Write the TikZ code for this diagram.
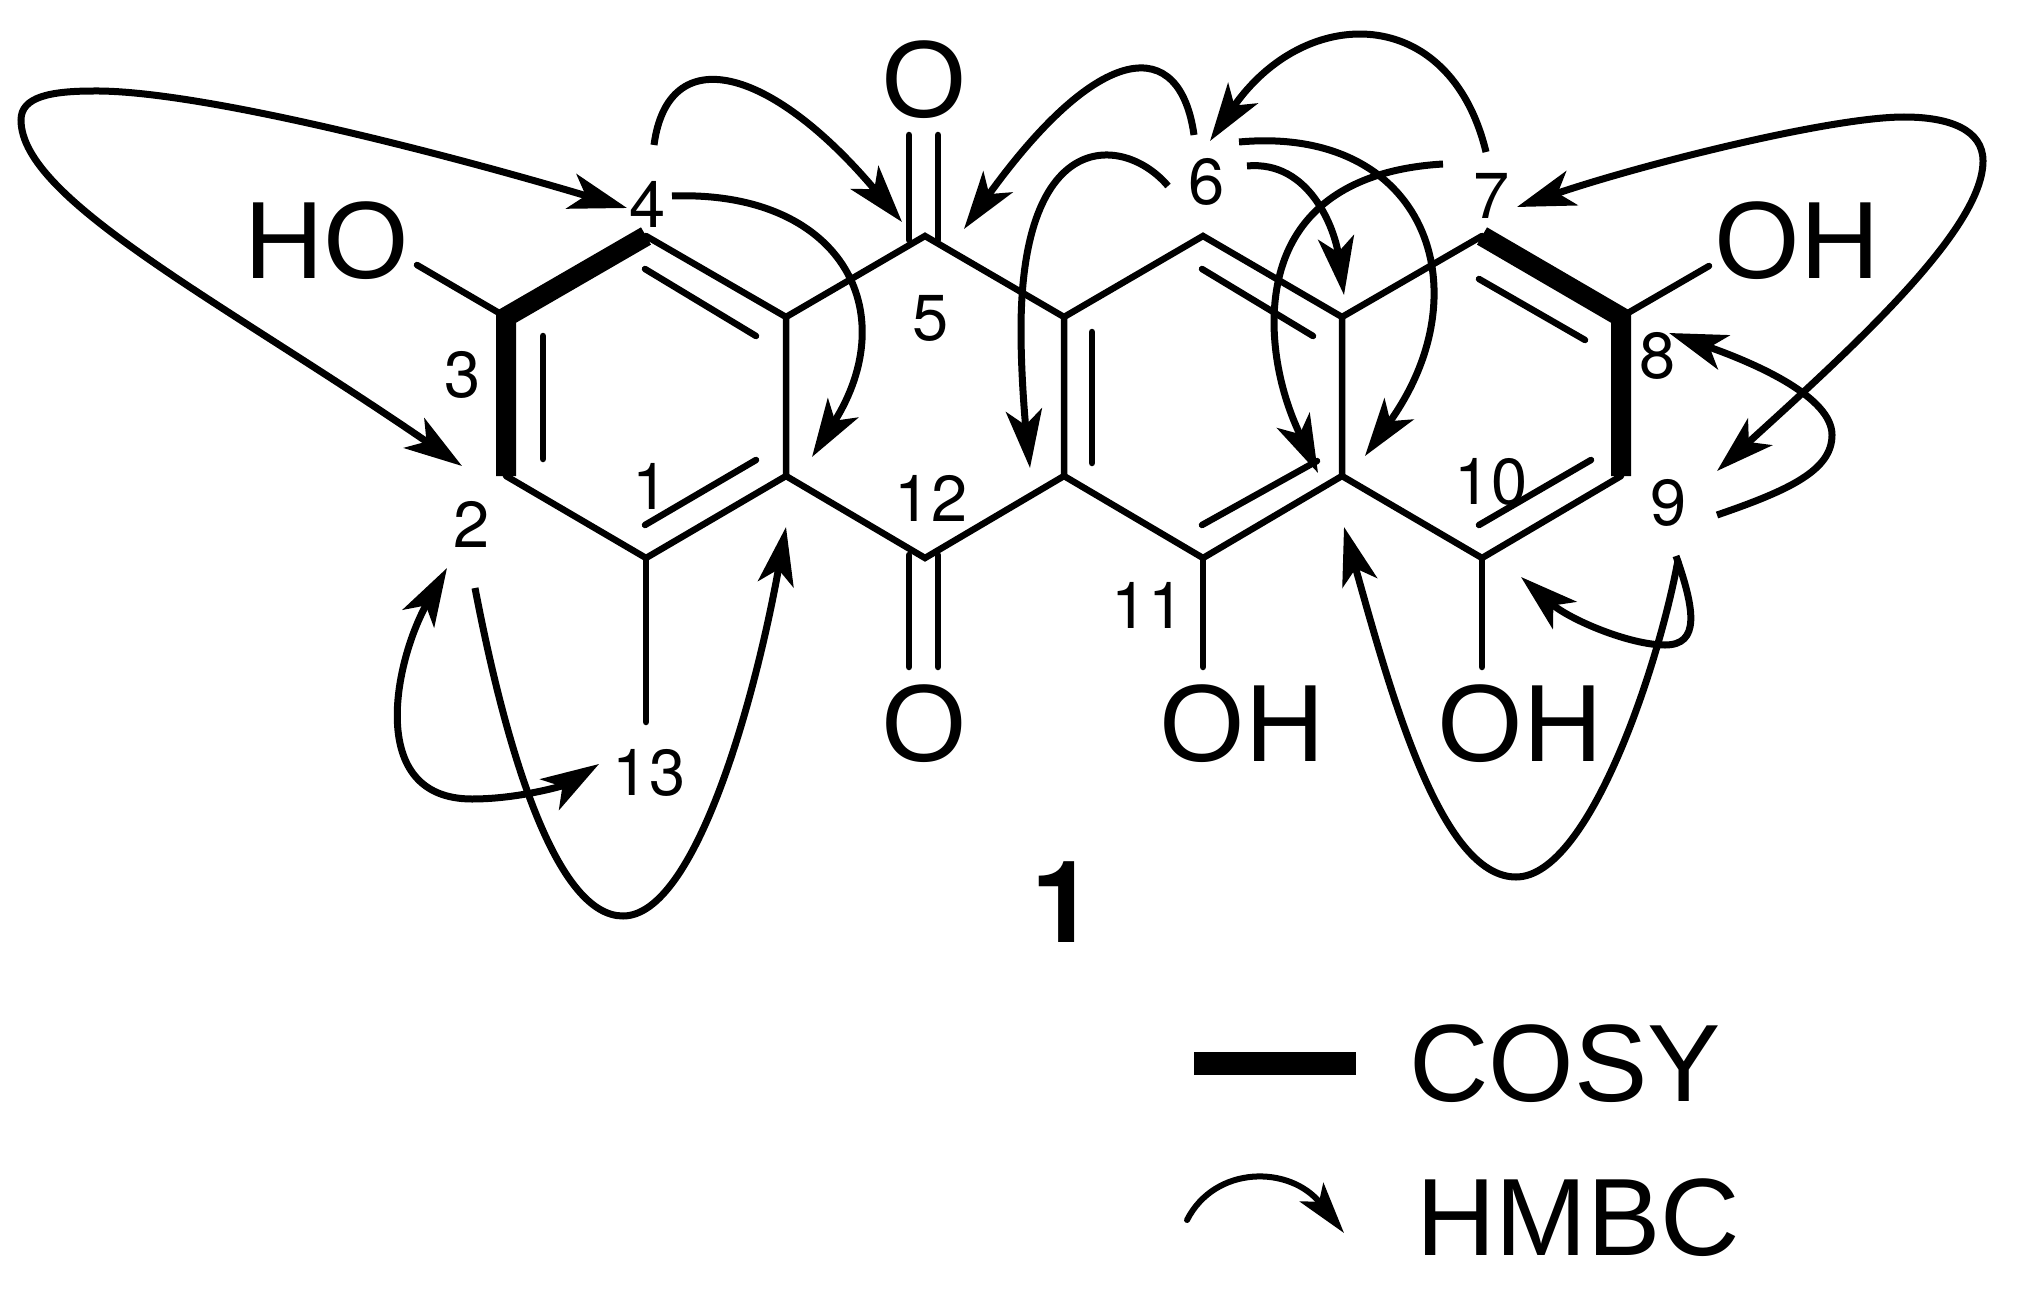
\documentclass[tikz,border=0pt]{standalone}
\usepackage{fontspec}
\setmainfont{Liberation Sans}
\newfontfamily\numfont{TeX Gyre Heros}
\usetikzlibrary{arrows.meta}

\begin{document}
\begin{tikzpicture}[x=1pt, y=-1pt,
  bond/.style={line width=6.5pt, line cap=round, line join=miter},
  cosybond/.style={line width=20pt, line cap=butt, line join=miter},
  hmbc/.style={line width=7pt, -{Stealth[length=58pt,width=36pt,inset=15pt]}},
  hmbcboth/.style={line width=7pt, {Stealth[length=58pt,width=36pt,inset=15pt]}-{Stealth[length=58pt,width=36pt,inset=15pt]}},
  atomlab/.style={inner sep=0pt, font=\fontsize{110}{112}\selectfont},
  numlab/.style={inner sep=0pt, font=\numfont\fontsize{65}{67}\selectfont}]
\useasboundingbox (0,0) rectangle (2026,1292);

\coordinate (c4) at (646,236);
\coordinate (c3) at (506,317);
\coordinate (c2) at (506,476);
\coordinate (c1) at (646,558);
\coordinate (c12a) at (786,476);
\coordinate (c4a) at (786,317);
\coordinate (c5) at (925,236);
\coordinate (c12) at (925,558);
\coordinate (c5a) at (1064,317);
\coordinate (c11a) at (1064,476);
\coordinate (c6) at (1203,236);
\coordinate (c11) at (1203,558);
\coordinate (c6a) at (1342,317);
\coordinate (c10a) at (1342,476);
\coordinate (c7) at (1482,236);
\coordinate (c10) at (1482,558);
\coordinate (c8) at (1621,317);
\coordinate (c9) at (1621,476);

\coordinate (ch3) at (646,722);
\coordinate (hoend) at (417,265);
\coordinate (oh8end) at (1709,266);
\coordinate (oh11end) at (1203,667);
\coordinate (oh10end) at (1482,667);

\node[atomlab] (o5) at (924,80) {O};
\node[atomlab] (o12) at (924,724) {O};
\node[atomlab] (ho3) at (327,241) {HO};
\node[atomlab] (oh8) at (1797,241) {OH};
\node[atomlab] (oh11) at (1242,724) {OH};
\node[atomlab] (oh10) at (1520,724) {OH};

\node[numlab] (n1) at (651,486) {1};
\node[numlab] (n2) at (472,524) {2};
\node[numlab] (n3) at (463,375) {3};
\node[numlab] (n4) at (648,204) {4};
\node[numlab] (n5) at (931,318) {5};
\node[numlab] (n6) at (1207,182) {6};
\node[numlab] (n7) at (1492,196) {7};
\node[numlab] (n8) at (1658,356) {8};
\node[numlab] (n9) at (1669,503) {9};
\node[numlab] (n10) at (1491,482) {10};
\node[numlab] (n11) at (1148,605) {11};
\node[numlab] (n12) at (931,498) {12};
\node[numlab] (n13) at (649,773) {13};

\node[inner sep=0pt, font=\numfont\fontsize{114}{116}\selectfont\bfseries] (cpd) at (1063,902) {1};
\node[atomlab] (cosy) at (1565,1064) {COSY};
\node[atomlab] (hmbclab) at (1578,1218) {HMBC};

\draw[bond] (c4) -- (c4a) -- (c12a) -- (c1) -- (c2);
\draw[bond] (c4a) -- (c5) -- (c5a) -- (c11a) -- (c12) -- (c12a);
\draw[bond] (c5a) -- (c6) -- (c6a) -- (c10a) -- (c11) -- (c11a);
\draw[bond] (c6a) -- (c7);
\draw[bond] (c10a) -- (c10) -- (c9);
\draw[bond] (c3) -- (hoend);
\draw[bond] (c8) -- (oh8end);
\draw[bond] (c11) -- (oh11end);
\draw[bond] (c10) -- (oh10end);
\draw[bond] (c1) -- (ch3);
\draw[cosybond] (c4) -- (c3) -- (c2);
\draw[cosybond] (c7) -- (c8) -- (c9);

\draw[bond] (543,336) -- (543,459);
\draw[bond] (645,269) -- (756,336);
\draw[bond] (645,525) -- (756,460);
\draw[bond] (1092,332) -- (1092,463);
\draw[bond] (1202,269) -- (1313,336);
\draw[bond] (1202,525) -- (1317,461);
\draw[bond] (1479,279) -- (1585,340);
\draw[bond] (1479,525) -- (1591,460);
\draw[bond] (909,135) -- (909,240);
\draw[bond] (938,135) -- (938,240);
\draw[bond] (909,555) -- (909,667);
\draw[bond] (938,555) -- (938,667);

\coordinate (h2a) at (462,466);
\coordinate (h4a) at (627,208);
\coordinate (h4b) at (654,145);
\coordinate (h5a) at (902,222);
\coordinate (h4c) at (672,196);
\coordinate (h12a) at (812,457);
\coordinate (h2b) at (447,568);
\coordinate (h13) at (599,764);
\coordinate (h2c) at (475,588);
\coordinate (h1a) at (786,527);
\coordinate (h6a) at (1194,135);
\coordinate (h5b) at (964,229);
\coordinate (h7a) at (1486,152);
\coordinate (h6b) at (1210,141);
\coordinate (h6c) at (1168,186);
\coordinate (h5c) at (1030,468);
\coordinate (h6d) at (1247,166);
\coordinate (h6e) at (1344,295);
\coordinate (h6f) at (1239,142);
\coordinate (h10a) at (1365,456);
\coordinate (h7b) at (1443,164);
\coordinate (h10b) at (1318,473);
\coordinate (h7c) at (1517,207);
\coordinate (h9a) at (1717,471);
\coordinate (h9b) at (1717,515);
\coordinate (h8) at (1669,333);
\coordinate (h9c) at (1676,556);
\coordinate (h10c) at (1521,577);
\coordinate (h9d) at (1678,560);
\coordinate (h10d) at (1344,527);
\coordinate (keya) at (1187,1220);
\coordinate (keyb) at (1344,1233);
\coordinate (bara) at (1194,1063);
\coordinate (barb) at (1356,1063);

\draw[hmbcboth] (h2a) .. controls (225,303) and (21,200) .. (21,120) .. controls (21,97) and (50,91) .. (94,91) .. controls (200,90) and (450,155) .. (h4a);
\draw[hmbc] (h4b) .. controls (668,40) and (770,65) .. (h5a);
\draw[hmbc] (h4c) .. controls (840,190) and (905,310) .. (h12a);
\draw[hmbcboth] (h2b) .. controls (395,660) and (365,799) .. (472,799) .. controls (520,799) and (565,785) .. (h13);
\draw[hmbc] (h2c) .. controls (510,770) and (560,916) .. (623,916) .. controls (695,916) and (755,700) .. (h1a);
\draw[hmbc] (h6a) .. controls (1180,35) and (1100,40) .. (h5b);
\draw[hmbc] (h7a) .. controls (1450,3) and (1305,3) .. (h6b);
\draw[hmbc] (h6c) .. controls (1125,135) and (1021,125) .. (1021,330) .. controls (1021,380) and (1026,430) .. (h5c);
\draw[hmbc] (h6d) .. controls (1310,160) and (1335,230) .. (h6e);
\draw[hmbc] (h6f) .. controls (1425,125) and (1485,290) .. (h10a);
\draw[hmbc] (h7b) .. controls (1340,170) and (1275,220) .. (1274,321) .. controls (1274,380) and (1295,424) .. (h10b);
\draw[hmbcboth] (h7c) .. controls (1640,165) and (1830,117) .. (1904,117) .. controls (1950,117) and (1983,130) .. (1983,161) .. controls (1983,230) and (1850,350) .. (h9a);
\draw[hmbc] (h9b) .. controls (1790,490) and (1832,470) .. (1832,435) .. controls (1832,398) and (1760,365) .. (h8);
\draw[hmbc] (h9c) .. controls (1695,610) and (1700,645) .. (1665,645) .. controls (1630,645) and (1570,620) .. (h10c);
\draw[hmbc] (h9d) .. controls (1660,660) and (1590,877) .. (1516,877) .. controls (1440,877) and (1390,690) .. (h10d);

\draw[cosybond, line width=23pt] (bara) -- (barb);
\draw[line width=6pt, line cap=round, -{Stealth[length=52pt,width=30pt,inset=12pt]}] (keya) .. controls (1215,1165) and (1290,1165) .. (keyb);
\end{tikzpicture}
\end{document}
